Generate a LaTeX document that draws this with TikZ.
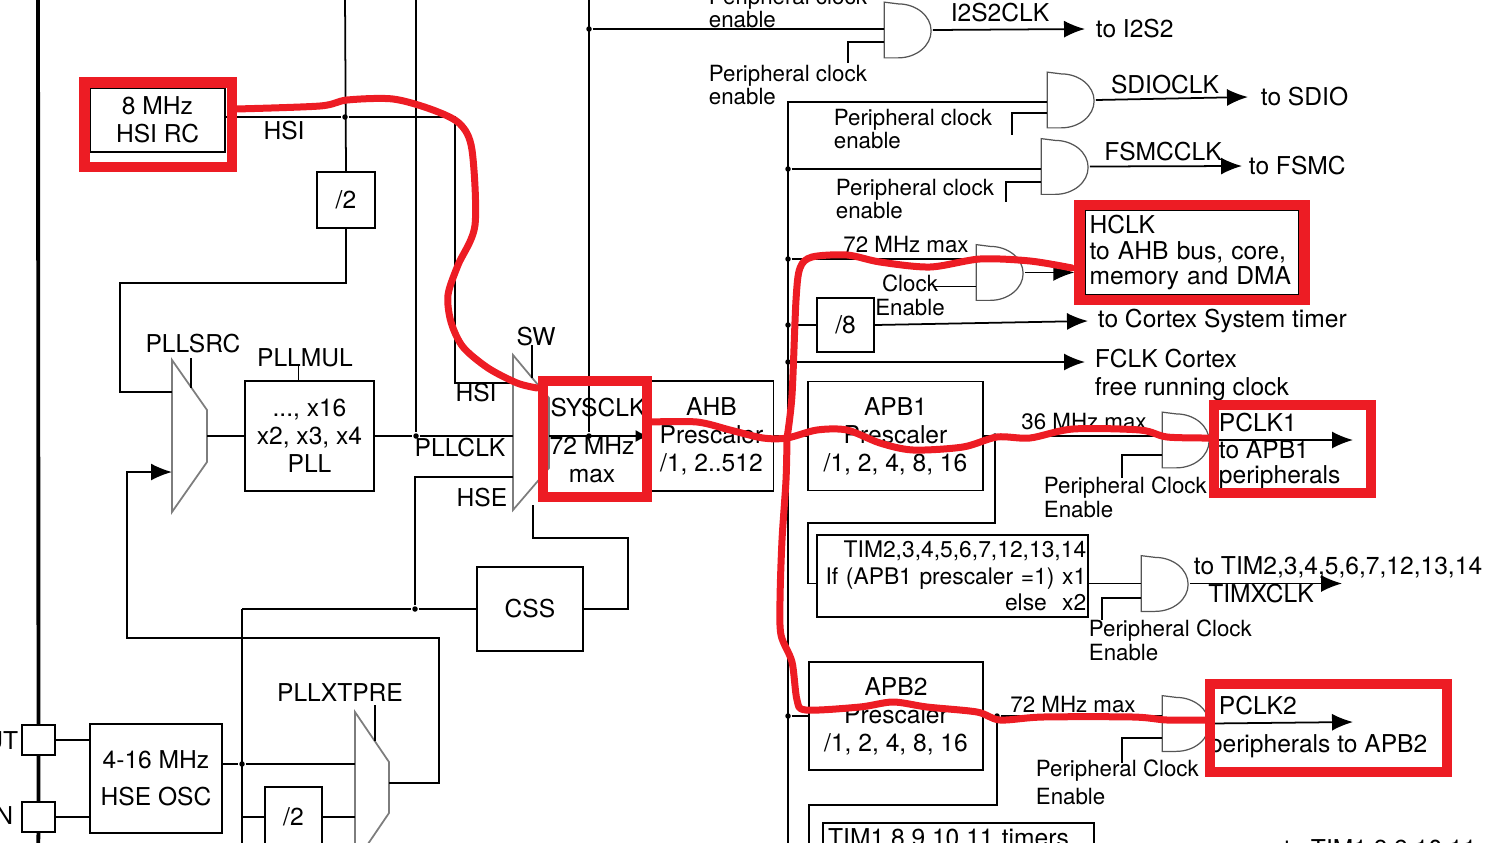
\documentclass[tikz,border=0pt]{standalone}
\usepackage{fontspec}
\setmainfont{TeX Gyre Heros}
\usetikzlibrary{positioning, fit, calc, arrows.meta}
\definecolor{mark-red}{RGB}{237,28,36}
\definecolor{mux-gray}{RGB}{125,125,125}
\definecolor{gate-gray}{RGB}{85,85,85}

\tikzset{
  blk/.style={draw, line width=1pt, inner sep=0pt, align=center},
  txt/.style={inner sep=0pt, align=left},
  sml/.style={inner sep=0pt, align=left, font=\fontsize{12.7}{13.6}\selectfont},
  dot/.style={circle, fill, inner sep=0pt, minimum size=0.11cm},
  gatebox/.style={inner sep=0pt, minimum width=0.94cm, minimum height=1.08cm},
  gateline/.style={draw=gate-gray, line width=0.7pt},
  muxline/.style={draw=mux-gray, line width=1pt},
  redbox/.style={draw=mark-red, line width=0.21cm, inner sep=0pt},
  redpath/.style={draw=mark-red, line width=0.14cm, line cap=round, line join=round},
  arr/.style={-{Latex[length=0.42cm,width=0.34cm]}},
  arrs/.style={-{Latex[length=0.26cm,width=0.24cm]}},
}
\newcommand{\andgate}[2]{%
  \node[gatebox] (#1) at #2 {};
  \draw[gateline] (#1.north west) -- (#1.south west) -- ++(0.28cm,0)
    arc[start angle=-90, end angle=90, x radius=0.66cm, y radius=0.54cm] -- cycle;
}

\begin{document}
\begin{tikzpicture}[x=0.02cm, y=-0.02cm, line width=1pt, every node/.style={font=\fontsize{14}{16}\selectfont}]
\useasboundingbox (0,0) rectangle (1486,842);
\clip (0,0) rectangle (1486,842);

% clock sources and prescalers
\node[blk, minimum width=2.7cm, minimum height=1.28cm] (hsi) at (157.5,120) {8 MHz\\HSI RC};
\node[blk, minimum width=1.16cm, minimum height=1.12cm] (divA) at (346,200) {/2};
\node[blk, minimum width=2.58cm, minimum height=2.2cm] (pll) at (309.5,436) {..., x16\\x2, x3, x4\\PLL};
\node[blk, minimum width=2.12cm, minimum height=1.68cm] (css) at (530,609) {CSS};
\node[blk, minimum width=2.64cm, minimum height=2.18cm, font=\fontsize{14}{21}\selectfont] (hse) at (156,778.5) {4-16 MHz\\HSE OSC};
\node[blk, minimum width=1.14cm, minimum height=1.2cm] (divB) at (293.5,817) {/2};
\node[blk, minimum width=0.66cm, minimum height=0.6cm] (pinout) at (38.5,740) {};
\node[blk, minimum width=0.66cm, minimum height=0.6cm] (pinin) at (38.5,817) {};
\node[blk, minimum width=2.48cm, minimum height=2.2cm] (ahb) at (711.5,436) {AHB\\Prescaler\\/1, 2..512};
\node[blk, minimum width=1.14cm, minimum height=1.08cm] (div8) at (845.5,325) {/8};
\node[blk, minimum width=3.5cm, minimum height=2.18cm] (apbone) at (895.5,436) {APB1\\Prescaler\\/1, 2, 4, 8, 16};
\node[blk, minimum width=3.48cm, minimum height=2.16cm] (apbtwo) at (896,716) {APB2\\Prescaler\\/1, 2, 4, 8, 16};
\node[blk, text width=5.35cm, inner sep=1pt, minimum height=1.64cm, align=right, font=\fontsize{13}{15}\selectfont] (timA) at (952.5,576) {TIM2,3,4,5,6,7,12,13,14\\If (APB1 prescaler =1) x1\\else\ \ x2};
\node[blk, text width=5.21cm, inner sep=3pt, minimum height=0.6cm, anchor=north west, align=left] (timB) at (822,822) {TIM1,8,9,10,11 timers};
\node[blk, line width=0.6pt, text width=4.1cm, inner sep=0.09cm, minimum height=1.5cm, align=left, font=\fontsize{14}{14.5}\selectfont] (hclk) at (1192,252.5) {HCLK\\to AHB bus, core,\\memory and DMA};

% gates
\andgate{gi2s}{(908.5,30)}
\andgate{gsdio}{(1071.5,100)}
\andgate{gfsmc}{(1065.5,166.5)}
\andgate{ghclk}{(1000.5,272.5)}
\andgate{gpa}{(1186.5,440)}
\andgate{gtim}{(1165.5,583.5)}
\andgate{gpb}{(1186.5,723.5)}

% multiplexers
\draw[muxline] (172,360) -- (207,410) -- (207,462) -- (172,512) -- cycle;
\draw[muxline] (513,355) -- (549,398) -- (549,468) -- (513,510) -- cycle;
\draw[muxline] (355,712) -- (389,762) -- (389,813) -- (355,863) -- cycle;
\draw (191,358) -- (191,388);
\draw (532,345) -- (532,378);
\draw (375,705) -- (375,741);
\draw ([xshift=-0.22cm]pll.north) -- ++(0,-14);

\coordinate (srcinA) at (172,392);
\coordinate (srcinB) at (172,472);
\coordinate (srcout) at (207,436);
\coordinate (swinA) at (513,383);
\coordinate (swinB) at (513,436);
\coordinate (swinC) at (513,477);
\coordinate (swout) at (549,436);
\coordinate (swsel) at (533,505);
\coordinate (xtinA) at (355,764);
\coordinate (xtinB) at (355,817);
\coordinate (xtout) at (389,783);

% junctions
\node[dot] (dhsi) at (345,117) {};
\node[dot] (dpll) at (416,436) {};
\node[dot] (dcss) at (415,609) {};
\node[dot] (dhse) at (242,764) {};
\node[dot] (dsys) at (589,436) {};
\node[dot] (di2s) at (589,29) {};
\node[dot] (dfsmc) at (788,169) {};
\node[dot] (dhclk) at (788,259) {};
\node[dot] (ddiv) at (788,325) {};
\node[dot] (dfclk) at (788,362) {};
\node[dot] (dahb) at (788,436) {};
\node[dot] (dapa) at (995,436) {};
\node[dot] (dapb) at (788,716) {};
\node[dot] (dapbo) at (997,716) {};

\coordinate (topA) at (345,-5);
\coordinate (toppll) at (416,-5);
\coordinate (topsys) at (589,-5);
\coordinate (hsiturn) at (455,117);
\coordinate (srcturnA) at (120,283);
\coordinate (srcturnB) at (127,472);
\coordinate (xtturn) at (439,638);
\coordinate (hsecorner) at (242,609);
\coordinate (hsebot) at (242,850);
\coordinate (cssturn) at (628,538);
\coordinate (bustop) at (788,102);
\coordinate (busbot) at (788,850);
\coordinate (timturn) at (808,523);
\coordinate (tmturn) at (809,805);
\coordinate (tmbot) at (809,850);
\coordinate (railtop) at (38,-5);
\coordinate (railbot) at (38,850);
\coordinate (pclkoneend) at (1353,440);
\coordinate (timend) at (1342,583.5);
\coordinate (pclktwoend) at (1353,722);

% left rail and pins
\draw[line width=2.2pt] (railtop) -- (pinout.north) (pinout.south) -- (pinin.north) (pinin.south) -- (railbot);
\draw (pinout.east) -- (hse.west |- pinout.east);
\draw (pinin.east) -- (hse.west |- pinin.east);

% HSI, PLL and HSE wiring
\draw (hsi.east |- dhsi) -- (dhsi) -- (hsiturn) |- (swinA);
\draw (topA) -- (divA.north);
\draw (divA.south) |- (srcturnA) |- (srcinA);
\draw (srcout) -- (pll.west);
\draw (pll.east) -- (dpll) -- (swinB);
\draw (toppll) -- (dpll);
\draw[arr] (xtout) -| (xtturn) -| (srcturnB) -- (srcinB);
\draw (hse.east |- dhse) -- (dhse) -- (xtinA);
\draw (hsecorner) -- (hsebot);
\draw (hsecorner) -- (dcss) -- (css.west);
\draw (dcss) |- (swinC);
\draw (dhse |- divB.west) -- (divB.west);
\draw (divB.east) -- (xtinB);
\draw (css.east) -| (cssturn) -| (swsel);

% SYSCLK and AHB bus
\draw[arrs] (swout) -- (ahb.west);
\draw (topsys) -- (dsys);
\draw (di2s) -- (di2s -| gi2s.west);
\draw (ahb.east) -- (dahb) -- (apbone.west);
\draw (gsdio.west |- bustop) -- (bustop) -- (busbot);
\draw (dfsmc) -- (dfsmc -| gfsmc.west);
\draw (dhclk) -- (dhclk -| ghclk.west);
\draw (ddiv) -- (div8.west);

% labels
\node[txt] (hsitxt) at (284,131) {HSI};
\node[txt] (srctxt) at (193,344) {PLLSRC};
\node[txt] (multxt) at (305,358) {PLLMUL};
\node[txt] (swhsi) at (476,393) {HSI};
\node[txt] (swtxt) at (536,337) {SW};
\node[txt] (plltxt) at (460,448) {PLLCLK};
\node[txt] (hsetxt) at (482,498) {HSE};
\node[txt] (systxt) at (598,408) {SYSCLK};
\node[txt, align=center] (maxtxt) at (592,460) {72 MHz\\max};
\node[txt] (xttxt) at (340,693) {PLLXTPRE};
\node[txt, anchor=east] (pinouttxt) at (19,741) {UT};
\node[txt, anchor=east] (pinintxt) at (14,816) {N};
\node[sml, anchor=west] (pcetop) at (708,8) {Peripheral clock\\enable};
\node[txt] (i2stxt) at (1000,13) {I2S2CLK};
\node[txt, anchor=west] (toi2s) at (1095,29) {to I2S2};
\node[sml, anchor=west] (pceA) at (708,85) {Peripheral clock\\enable};
\node[txt] (sdiotxt) at (1165,85) {SDIOCLK};
\node[txt, anchor=west] (tosdio) at (1260,97) {to SDIO};
\node[sml, anchor=west] (pceB) at (833,129) {Peripheral clock\\enable};
\node[txt] (fsmctxt) at (1163,152) {FSMCCLK};
\node[txt, anchor=west] (tofsmc) at (1248,166) {to FSMC};
\node[sml, anchor=west] (pceC) at (835,199) {Peripheral clock\\enable};
\node[sml] (hmax) at (906,245) {72 MHz max};
\node[sml, align=center] (cken) at (910,295) {Clock\\Enable};
\node[txt, anchor=west] (tocortex) at (1097,321) {to Cortex System timer};
\node[txt, anchor=north west] (fclk) at (1094,348) {FCLK Cortex\\free running clock};
\node[sml] (amax) at (1084,422) {36 MHz max};
\node[sml, anchor=west] (pceD) at (1043,497) {Peripheral Clock\\Enable};
\node[txt, anchor=west] (pclkonetxt) at (1218,423) {PCLK1};
\node[txt, anchor=west] (apbonetxt) at (1218,450) {to APB1};
\node[txt, anchor=west] (perionetxt) at (1218,477) {peripherals};
\node[txt, anchor=west] (totim) at (1193,567) {to TIM2,3,4,5,6,7,12,13,14};
\node[txt] (timxtxt) at (1261,594) {TIMXCLK};
\node[sml, anchor=west] (pceE) at (1088,640) {Peripheral Clock\\Enable};
\node[sml] (bmax) at (1073,705) {72 MHz max};
\node[sml, anchor=west, font=\fontsize{12.7}{16}\selectfont] (pceF) at (1035,782) {Peripheral Clock\\Enable};
\node[txt, anchor=west] (pclktwotxt) at (1218,706) {PCLK2};
\node[txt, anchor=west] (apbtwotxt) at (1208,746) {peripherals to APB2};
\node[txt, anchor=west] (totimb) at (1283,850) {to TIM1,8,9,10,11};

% gate wiring
\draw ($(gi2s.west)+(0,12)$) -| ++(-36,21);
\draw[arr] (gi2s.east) -- ([xshift=-0.2cm]toi2s.west);
\draw ($(gsdio.west)+(0,13)$) -| ++(-35,22);
\draw[arr] (gsdio.east) -- ([xshift=-0.24cm]tosdio.west);
\draw ($(gfsmc.west)+(0,15.5)$) -| ++(-35,20);
\draw[arr] (gfsmc.east) -- ([xshift=-0.12cm]tofsmc.west);
\draw ($(ghclk.west)+(0,14)$) -- ++(-42,0);
\draw[arr] (div8.east) -- ([xshift=-0.18cm]tocortex.west);
\draw[arr] (dfclk) -- ($(dfclk -| fclk.west)+(-9,0)$);
\draw (apbone.east) -- (dapa) -- (dapa -| gpa.west);
\draw (dapa) |- (timturn) |- (timA.west |- gtim);
\draw ($(gpa.west)+(0,15)$) -| ++(-40,23);
\draw[arr] (gpa.east) -- (pclkoneend);
\draw (timA.east |- gtim) -- (gtim.west);
\draw ($(gtim.west)+(0,14.5)$) -| ++(-39,22);
\draw[arr] (gtim.east) -- (timend);
\draw (dapb) -- (apbtwo.west);
\draw (apbtwo.east) -- (dapbo) -- (dapbo -| gpb.west);
\draw (dapbo) |- (tmturn) -- (tmbot);
\draw ($(gpb.west)+(0,14.5)$) -| ++(-40,25);
\draw[arr] (gpb.east) -- (pclktwoend);

% red marks
\node[redbox, minimum width=2.95cm, minimum height=1.69cm] (hsired) at (158.25,124.75) {};
\node[redbox, minimum width=2.08cm, minimum height=2.32cm] (sysred) at (595,439) {};
\node[redbox, fit=(hclk), inner sep=0.1cm] (hclkred) {};
\node[redbox, minimum width=3.14cm, minimum height=1.76cm] (pclkone) at (1292.5,449) {};
\node[redbox, minimum width=4.74cm, minimum height=1.76cm] (pclktwo) at (1328.5,728) {};
\draw[arr] (ghclk.east) -- (ghclk.east -| hclkred.west);
\draw[redpath] plot[smooth, tension=0.5] coordinates {(236,109) (320,106) (347,100) (393,99) (433,110) (460,124) (472,150) (475,225) (458,265) (448,295) (451,322) (463,347) (488,368) (517,383) (537,388)};
\draw[redpath] plot[smooth, tension=0.5] coordinates {(650,422) (697,422) (730,430) (763,438) (787,438) (817,430) (847,430) (880,443) (913,450) (963,447) (997,437) (1030,438) (1073,429) (1140,430) (1167,437) (1210,438)};
\draw[redpath] plot[smooth, tension=0.5] coordinates {(787,438) (792,395) (796,300) (800,268) (812,257) (847,255) (880,262) (930,267) (980,259) (1030,261) (1072,268)};
\draw[redpath] plot[smooth, tension=0.5] coordinates {(787,438) (786,480) (782,540) (780,600) (781,635) (792,662) (797,700) (806,710) (860,707) (893,702) (927,707) (977,712) (1000,720) (1043,717) (1133,717) (1167,720) (1207,720)};
\end{tikzpicture}
\end{document}
